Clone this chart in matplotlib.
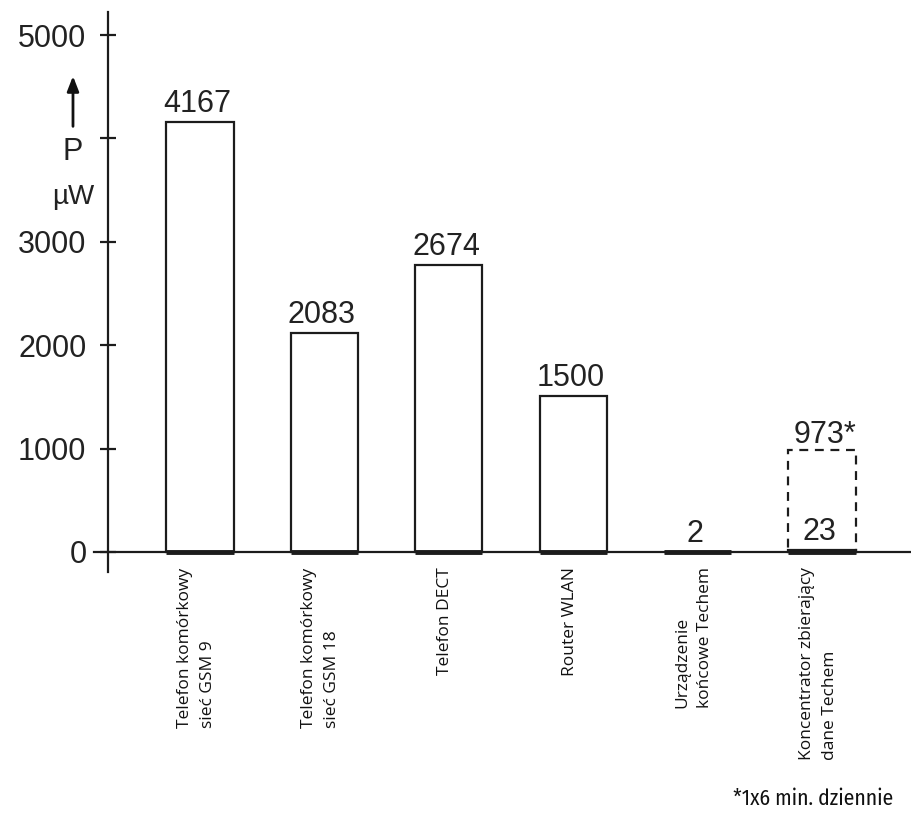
import matplotlib
matplotlib.use("Agg")
import matplotlib.pyplot as plt
from matplotlib import font_manager as fm

categories = [
    "Telefon komórkowy\nsieć GSM 9",
    "Telefon komórkowy\nsieć GSM 18",
    "Telefon DECT",
    "Router WLAN",
    "Urządzenie\nkońcowe Techem",
    "Koncentrator zbierający\ndane Techem",
]
bar_heights = [4160, 2118, 2776, 1509, 2, 23]
value_labels = ["4167", "2083", "2674", "1500", "2", "23"]
peak_height = 986
peak_label = "973*"
y_ticks = [0, 1000, 2000, 3000, 4000, 5000]
y_tick_labels = ["0", "1000", "2000", "3000", "", "5000"]
footnote = "*1x6 min. dziennie"

names = {f.name for f in fm.fontManager.ttflist}
cond_choices = [n for n in ["Fira Sans Condensed", "Roboto Condensed", "Asap Condensed",
                            "Archivo Narrow"] if n in names]
foot_family = cond_choices + ["DejaVu Sans"]

main_font = "Liberation Sans"
cat_font = "Open Sans"
ink = "#1c1c1c"

W, H = 911, 818
fig = plt.figure(figsize=(W / 100, H / 100), dpi=100)
ax = fig.add_axes([108 / W, (H - 572) / H, (W - 108) / W, 560 / H])
ax.set_ylim(-194, 5223)
ax.set_xlim(-0.74, 5.715)

for s in ["top", "right", "bottom"]:
    ax.spines[s].set_visible(False)
ax.spines["left"].set_linewidth(1.6)
ax.spines["left"].set_color(ink)

x = list(range(len(categories)))
bw = 0.54
ax.bar(x, bar_heights, width=bw, facecolor="none", edgecolor=ink, linewidth=1.6, zorder=3)
for i in x:
    ax.hlines(0, i - bw / 2, i + bw / 2, color=ink, linewidth=3.5, zorder=4)

# dashed peak box for concentrator
ax.bar([x[-1]], [peak_height], width=bw, facecolor="none", edgecolor=ink,
       linewidth=1.6, linestyle=(0, (4, 3)), zorder=3)

ax.axhline(0, xmin=-0.018, xmax=1, color=ink, linewidth=1.6, clip_on=False, zorder=2)

for i, (h, lab) in enumerate(zip(bar_heights, value_labels)):
    ax.annotate(lab, (i, h), xytext=(-2, 7), textcoords="offset points", ha="center",
                va="baseline", fontsize=22, family=main_font, color="#222222")
ax.annotate(peak_label, (x[-1], peak_height), xytext=(2, 5), textcoords="offset points",
            ha="center", va="baseline", fontsize=22, family=main_font, color="#222222")

ax.set_xticks([])
ax.set_yticks(y_ticks)
ax.set_yticklabels(y_tick_labels, fontsize=22, family=main_font, color="#222222")
ax.tick_params(axis="y", direction="inout", length=11, width=1.6, pad=10, color=ink)

for i, c in enumerate(categories):
    ax.text(i - 0.03, -150, c, rotation=90, ha="center", va="top", multialignment="left",
            fontsize=12.5, linespacing=1.55, family=cat_font, color="#111111")

# axis label with arrow
yt = ax.get_yaxis_transform()
ax.annotate("", xy=(-0.0436, 4630), xytext=(-0.0436, 4090), xycoords=yt, textcoords=yt,
            arrowprops=dict(arrowstyle="-|>,head_length=0.9,head_width=0.35", color="#111111",
                            lw=2), annotation_clip=False)
ax.text(-0.0436, 3868, "P", transform=yt, ha="center", va="center", fontsize=22,
        family=main_font, color="#222222", clip_on=False)
ax.text(-0.0436, 3430, "µW", transform=yt, ha="center", va="center", fontsize=20,
        family=main_font, color="#222222", clip_on=False)

fig.text(893 / W, (H - 805) / H, footnote, ha="right", va="baseline", fontsize=15.5,
         family=foot_family, fontweight="normal", color="#111111")

fig.savefig("out.png", dpi=100)
